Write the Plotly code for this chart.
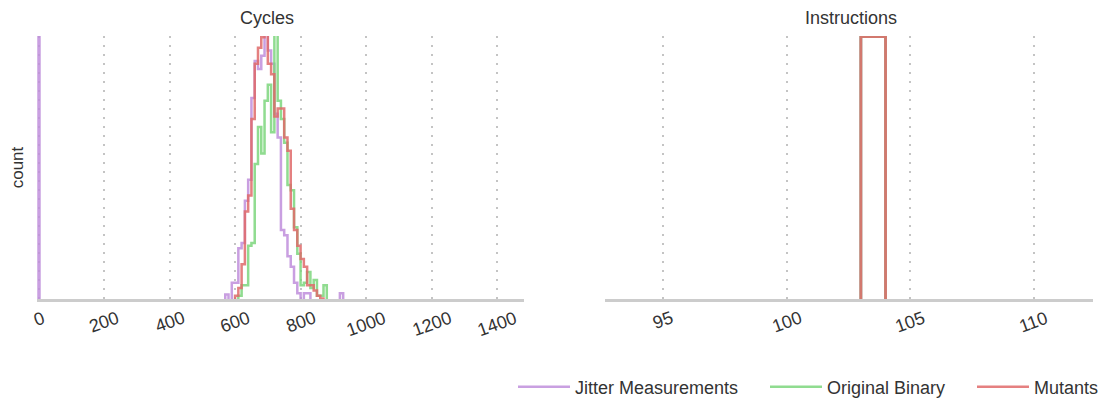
import plotly.graph_objects as go

# ---------------- data ----------------
# Cycles histogram: left edges of 10-cycle bins, counts
# (count scale: 100 = top of the plotting area; larger values are clipped)
cycle_bin_starts = [560, 570, 580, 590, 600, 610, 620, 630, 640, 650,
                    660, 670, 680, 690, 700, 710, 720, 730, 740, 750,
                    760, 770, 780, 790, 800, 810, 820, 830, 840, 850,
                    860, 870, 880, 890, 900, 910, 920, 930]
cycle_bin_width = 10
jitter_cycles = [0, 2.5, 0, 7, 7, 20, 22, 38, 46, 77,
                 91, 88, 93, 105, 95, 90, 71, 62, 27, 25,
                 17, 13, 7, 3, 0, 3, 3, 0, 0, 0,
                 0, 0, 0, 0, 0, 0, 3, 0]
original_cycles = [0, 0, 0, 0, 0, 2, 6, 6, 21, 22,
                   52, 66, 56, 76, 82, 64, 110, 76, 69, 60,
                   44, 42, 28, 18, 6, 7, 11, 5, 8, 2,
                   2, 6, 0, 0, 0, 0, 0, 0]
mutant_cycles = [0, 0, 0, 0, 2, 5, 14, 34, 40, 69,
                 90, 96, 100, 105, 90, 86, 70, 73, 73, 62,
                 57, 35, 27, 21, 16, 13, 6, 6, 4, 2,
                 1, 0, 0, 0, 0, 0, 0, 0]
# jitter measurements also contain a huge number of 0-cycle readings
jitter_zero_bin = [0, 3]       # bin edges
jitter_zero_count = 1000

# Instructions histogram: 1-instruction bins
instr_bin_starts = [92, 93, 94, 95, 96, 97, 98, 99, 100, 101, 102,
                    103, 104, 105, 106, 107, 108, 109, 110, 111, 112]
instr_bin_width = 1
jitter_instr = [0, 0, 0, 0, 0, 0, 0, 0, 0, 0, 0, 100.3, 0, 0, 0, 0, 0, 0, 0, 0, 0]
original_instr = [0, 0, 0, 0, 0, 0, 0, 0, 0, 0, 0, 100.3, 0, 0, 0, 0, 0, 0, 0, 0, 0]
mutant_instr = [0, 0, 0, 0, 0, 0, 0, 0, 0, 0, 0, 100.3, 0, 0, 0, 0, 0, 0, 0, 0, 0]

cycle_ticks = [0, 200, 400, 600, 800, 1000, 1200, 1400]
cycle_tick_labels = ["0", "200", "400", "600", "800", "1000", "1200", "1400"]
instr_ticks = [95, 100, 105, 110]
instr_tick_labels = ["95", "100", "105", "110"]

series_names = ["Jitter Measurements", "Original Binary", "Mutants"]
series_colors = ["#c08fdc", "#7dd67d", "#e06a6a"]

# ---------------- helpers ----------------
def step_xy(edges, counts):
    """Turn bin edges + counts into an 'hv' step outline."""
    xs = [edges[0]] + list(edges[:-1]) + [edges[-1]]
    ys = [0] + list(counts) + [0]
    return xs, ys


def edges_from(starts, width):
    return list(starts) + [starts[-1] + width]


cyc_edges = edges_from(cycle_bin_starts, cycle_bin_width)
ins_edges = edges_from(instr_bin_starts, instr_bin_width)

cycle_sets = [
    (jitter_zero_bin + cyc_edges, [jitter_zero_count, 0] + jitter_cycles),
    (cyc_edges, original_cycles),
    (cyc_edges, mutant_cycles),
]
instr_sets = [
    (ins_edges, jitter_instr),
    (ins_edges, original_instr),
    (ins_edges, mutant_instr),
]

legend_ids = ["legend", "legend2", "legend3"]

fig = go.Figure()
for i, name in enumerate(series_names):
    ex, cy = cycle_sets[i]
    xs, ys = step_xy(ex, cy)
    fig.add_trace(go.Scatter(x=xs, y=ys, mode="lines", line_shape="hv",
                             line=dict(color=series_colors[i], width=2.5),
                             opacity=0.85, name=name, legendgroup=name,
                             legend=legend_ids[i],
                             xaxis="x", yaxis="y", hoverinfo="skip"))
for i, name in enumerate(series_names):
    ex, cy = instr_sets[i]
    xs, ys = step_xy(ex, cy)
    fig.add_trace(go.Scatter(x=xs, y=ys, mode="lines", line_shape="hv",
                             line=dict(color=series_colors[i], width=2.8),
                             opacity=0.85, name=name, legendgroup=name,
                             showlegend=False,
                             xaxis="x2", yaxis="y2", hoverinfo="skip"))

font_family = "Liberation Sans, Arial, Helvetica, sans-serif"
text_color = "#333333"
xcommon = dict(showline=True, linecolor="#cccccc", linewidth=2.5,
               showgrid=True, gridcolor="#c4c4c4", gridwidth=2,
               griddash="2px,7px", zeroline=False, ticks="",
               showticklabels=False, layer="above traces")
ycommon = dict(showline=False, showgrid=False, zeroline=False,
               showticklabels=False, ticks="", range=[0.8, 100.5])

# tick labels: rotated, centred under each tick (as in the reference)
tick_label_top = (400 - 305) / 400
annotations = []
for axis_ref, vals, labels in (("x", cycle_ticks, cycle_tick_labels),
                               ("x2", instr_ticks, instr_tick_labels)):
    for v, lab in zip(vals, labels):
        annotations.append(dict(text=lab, x=v, xref=axis_ref,
                                y=tick_label_top, yref="paper",
                                xanchor="center", yanchor="top",
                                textangle=-20, showarrow=False,
                                font=dict(size=18, color=text_color)))
annotations += [
    dict(text="Cycles", x=267 / 1105, xref="paper", y=(400 - 18) / 400,
         yref="paper", showarrow=False, xanchor="center",
         yanchor="middle", font=dict(size=18, color=text_color)),
    dict(text="Instructions", x=851 / 1105, xref="paper", y=(400 - 18) / 400,
         yref="paper", showarrow=False, xanchor="center",
         yanchor="middle", font=dict(size=18, color=text_color)),
]

y_dom = [101 / 400, 364 / 400]
legend_common = dict(orientation="h", xanchor="left", yanchor="middle",
                     y=13 / 400, bgcolor="rgba(0,0,0,0)", itemwidth=52,
                     font=dict(size=18, color=text_color, family=font_family))
fig.update_layout(
    width=1105, height=400,
    margin=dict(l=0, r=0, t=0, b=0, autoexpand=False),
    paper_bgcolor="white", plot_bgcolor="white",
    font=dict(family=font_family, color=text_color),
    xaxis=dict(domain=[37 / 1105, 524 / 1105], range=[-4.6, 1482],
               tickvals=cycle_ticks, anchor="y", **xcommon),
    yaxis=dict(domain=y_dom, anchor="x",
               title=dict(text="count", font=dict(size=17, color=text_color),
                          standoff=8), **ycommon),
    xaxis2=dict(domain=[605 / 1105, 1093 / 1105], range=[92.64, 112.4],
                tickvals=instr_ticks, anchor="y2", **xcommon),
    yaxis2=dict(domain=y_dom, anchor="x2", **ycommon),
    legend=dict(x=513 / 1105, **legend_common),
    legend2=dict(x=765 / 1105, **legend_common),
    legend3=dict(x=972 / 1105, **legend_common),
    annotations=annotations,
)

fig.write_html("out.html")
